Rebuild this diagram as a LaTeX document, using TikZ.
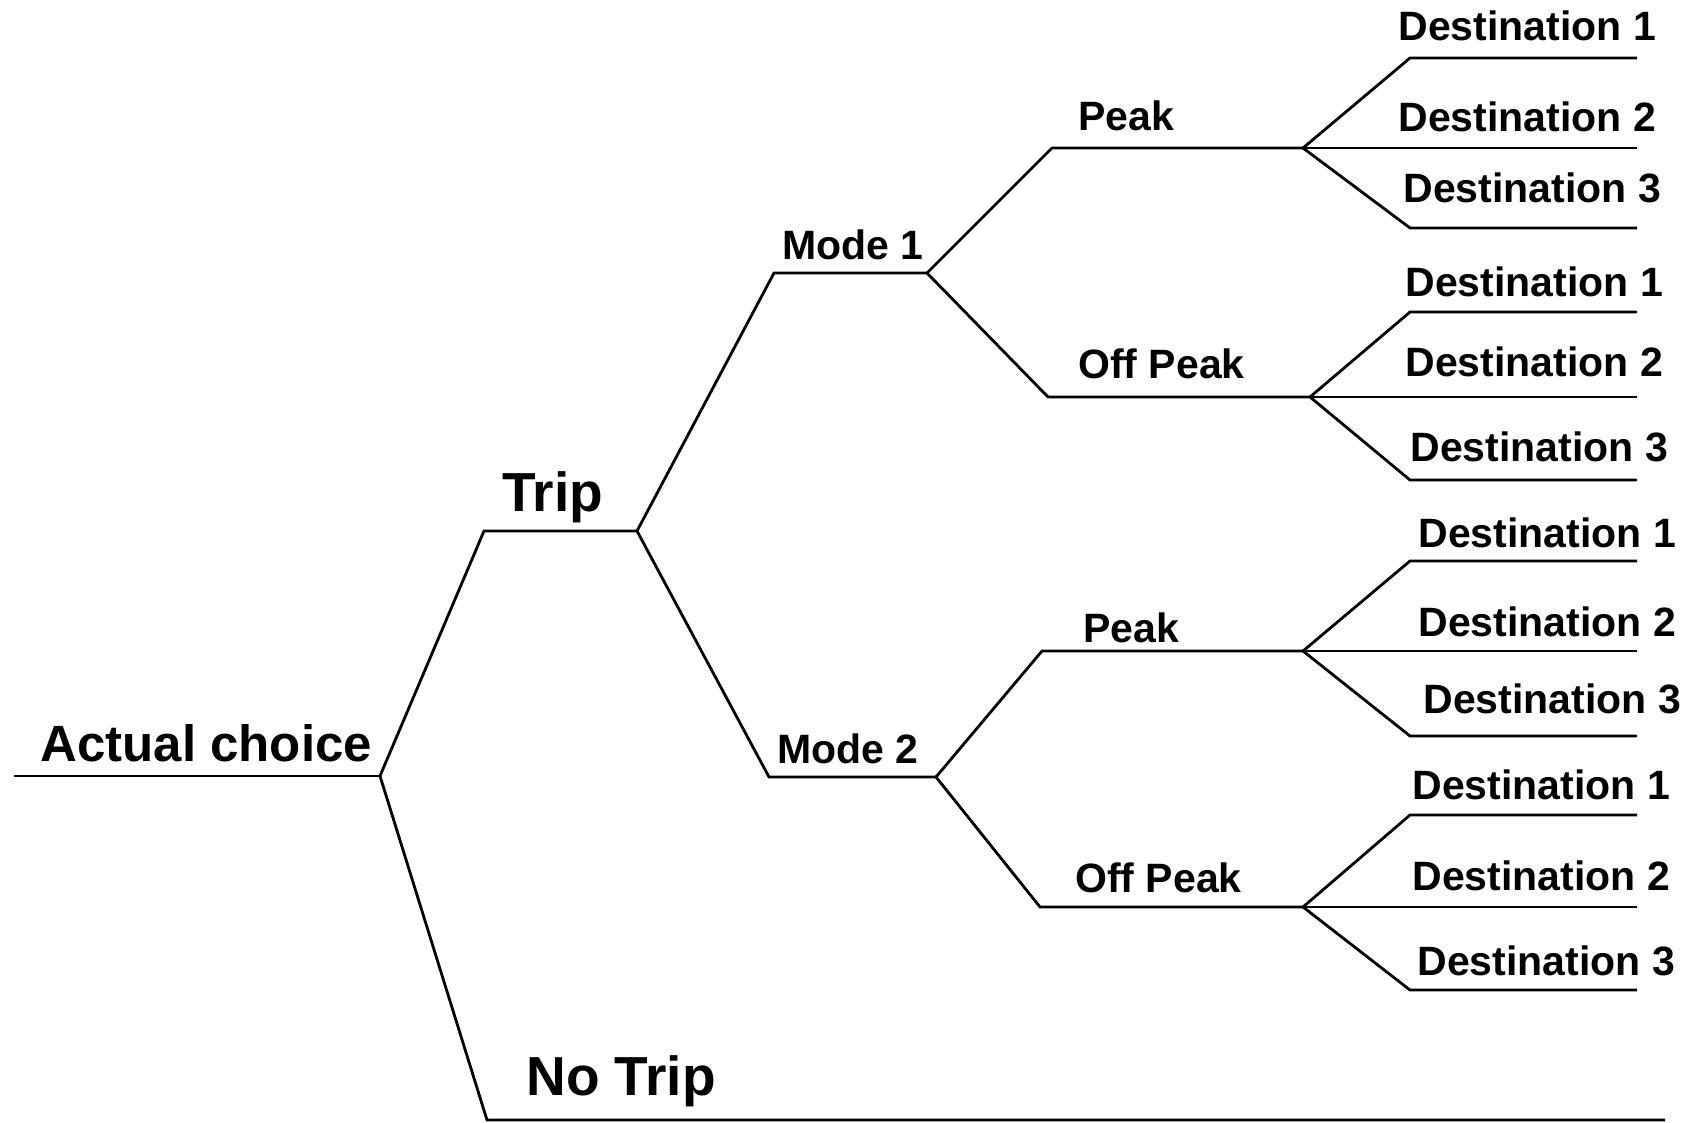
\documentclass[tikz,border=0pt]{standalone}
\usepackage{fontspec}
\setmainfont{Liberation Sans}

\tikzset{
  branch/.style={line width=1.4pt, line join=miter},
  lbl/.style={anchor=base west, inner sep=0pt, font=\bfseries\fontsize{20.5}{20.5}\selectfont},
  biglbl/.style={lbl, font=\bfseries\fontsize{27.5}{27.5}\selectfont},
}

\begin{document}
\begin{tikzpicture}[x=0.5pt, y=-0.5pt]
\useasboundingbox (0,0) rectangle (1686,1123);

% branching points and line starts
\coordinate (start) at (14,776);
\coordinate (root) at (380,776);
\coordinate (trip-s) at (484,531);
\coordinate (trip) at (637,531);
\coordinate (notrip-s) at (487,1120);
\coordinate (notrip) at (1665,1120);
\coordinate (m1-s) at (774,273);
\coordinate (m1) at (927,273);
\coordinate (m2-s) at (769,777);
\coordinate (m2) at (936,777);
\coordinate (p1-s) at (1052,148);
\coordinate (p1) at (1303,148);
\coordinate (o1-s) at (1048,397);
\coordinate (o1) at (1310,397);
\coordinate (p2-s) at (1042,651);
\coordinate (p2) at (1303,651);
\coordinate (o2-s) at (1040,907);
\coordinate (o2) at (1303,907);

% labels
\node[biglbl, font=\bfseries\fontsize{25.5}{25.5}\selectfont] (actual) at (40,761) {Actual choice};
\node[biglbl] (triplbl) at (502,511) {Trip};
\node[biglbl] (notriplbl) at (526,1095) {No Trip};
\node[lbl] (m1lbl) at (782,260) {Mode 1};
\node[lbl] (m2lbl) at (777,763) {Mode 2};
\node[lbl] (p1lbl) at (1078,131) {Peak};
\node[lbl] (o1lbl) at (1078,378) {Off Peak};
\node[lbl] (p2lbl) at (1083,642) {Peak};
\node[lbl] (o2lbl) at (1075,892) {Off Peak};

% tree
\draw[branch] (start) -- (root);
\draw[branch] (root) -- (trip-s) -- (trip);
\draw[branch] (root) -- (notrip-s) -- (notrip);
\draw[branch] (trip) -- (m1-s) -- (m1);
\draw[branch] (trip) -- (m2-s) -- (m2);
\draw[branch] (m1) -- (p1-s) -- (p1);
\draw[branch] (m1) -- (o1-s) -- (o1);
\draw[branch] (m2) -- (p2-s) -- (p2);
\draw[branch] (m2) -- (o2-s) -- (o2);

% destinations, three per time period
\foreach \g/\a/\b/\c/\ta/\tb/\tc/\x in {
    p1/58/148/228/41/132/203/1398,
    o1/312/397/480/296/376/461/1405,
    p2/561/651/736/547/636/713/1418,
    o2/815/907/990/799/890/975/1412}{
  \coordinate (\g-d1) at (1410,\a);
  \coordinate (\g-d1e) at (1637,\a);
  \coordinate (\g-d2e) at (1637,\b);
  \coordinate (\g-d3) at (1410,\c);
  \coordinate (\g-d3e) at (1637,\c);
  \draw[branch] (\g) -- (\g-d1) -- (\g-d1e);
  \draw[branch] (\g) -- (\g-d2e);
  \draw[branch] (\g) -- (\g-d3) -- (\g-d3e);
  \node[lbl] (\g-t1) at (\x,\ta) {Destination 1};
  \node[lbl] (\g-t2) at (\x,\tb) {Destination 2};
  \node[lbl] (\g-t3) at (\x+5,\tc) {Destination 3};
}
\end{tikzpicture}
\end{document}
